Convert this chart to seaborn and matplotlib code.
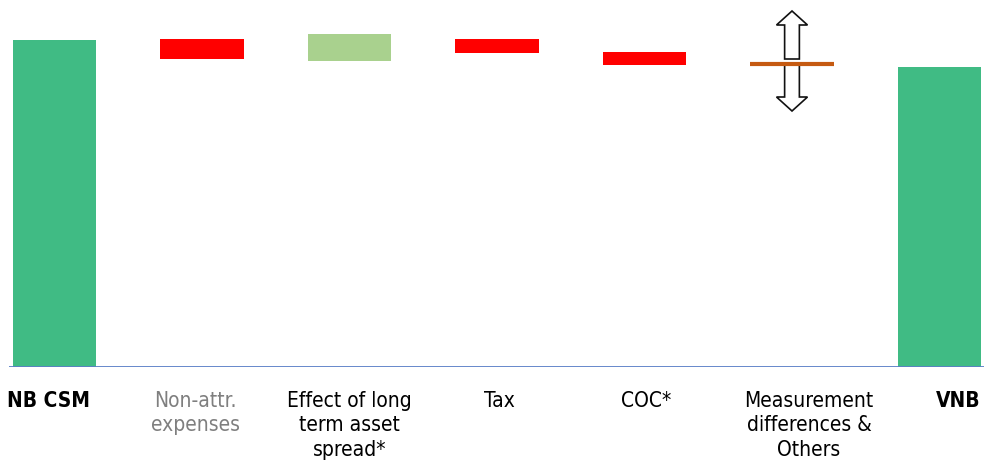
import matplotlib
matplotlib.use("Agg")
import matplotlib.pyplot as plt
import matplotlib.transforms as mtransforms
import seaborn as sns
import numpy as np

# ---- data (arbitrary units, baseline = 0) ----
categories = ["NB CSM", "Non-attr.\nexpenses", "Effect of long\nterm asset\nspread*",
              "Tax", "COC*", "Measurement\ndifferences &\nOthers", "VNB"]
bar_low = [0, 308, 306, 314, 302, 303, 0]
bar_high = [327, 328, 333, 328, 315, 303, 300]
bar_colors = ["#40BB84", "#FF0000", "#A9D18E", "#FF0000", "#FF0000", "#C55A11", "#40BB84"]
label_colors = ["#000000", "#7F7F7F", "#000000", "#000000", "#000000", "#000000", "#000000"]
label_bold = [True, False, False, False, False, False, True]
uncertain_index = 5          # category with the up/down range arrows
arrow_up = (308, 356)        # start, tip
arrow_down = (304, 256)      # start, tip

sns.set_theme(style="white")
plt.rcParams["font.family"] = ["DejaVu Sans"]

fig = plt.figure(figsize=(9.84, 4.65), dpi=100)
ax = fig.add_axes([9 / 984, 98 / 465, 975 / 984, 367 / 465])

heights = [h - l for h, l in zip(bar_high, bar_low)]
bw = 0.565
sns.barplot(x=categories, y=heights, hue=categories, palette=bar_colors,
            legend=False, width=bw, saturation=1, linewidth=0, ax=ax)
for patch, low in zip(ax.patches, bar_low):
    patch.set_y(low)

# range arrows and level line for "Measurement differences & Others"
xc = uncertain_index
for start, tip in (arrow_up, arrow_down):
    ax.arrow(xc, start, 0, tip - start, width=0.10, head_width=0.21, head_length=14,
             length_includes_head=True, facecolor="white", edgecolor="#111111",
             linewidth=1.2, zorder=3)
ax.hlines(bar_low[xc], xc - bw / 2, xc + bw / 2, color=bar_colors[xc], linewidth=3, zorder=4)

# baseline
ax.axhline(0, color="#5B7FC7", linewidth=1.3, zorder=5)

ax.set_ylim(0, 367)
ax.set_xlim(-0.3085, 6.3017)
ax.set_yticks([])
ax.set_ylabel("")
for s in ax.spines.values():
    s.set_visible(False)

ax.set_xticks(range(len(categories)))
ax.set_xticklabels(categories, fontsize=15, linespacing=1.3, ha="center",
                   multialignment="center", fontstretch="condensed")
ax.tick_params(axis="x", length=0, pad=17)
label_shift_px = [-6, -7, 0, 2, 2, 17, 19]
for t, c, b, dx in zip(ax.get_xticklabels(), label_colors, label_bold, label_shift_px):
    t.set_color(c)
    if b:
        t.set_fontweight("bold")
    t.set_transform(t.get_transform() + mtransforms.ScaledTranslation(dx / 100, 0, fig.dpi_scale_trans))

fig.savefig("out.png", dpi=100)
